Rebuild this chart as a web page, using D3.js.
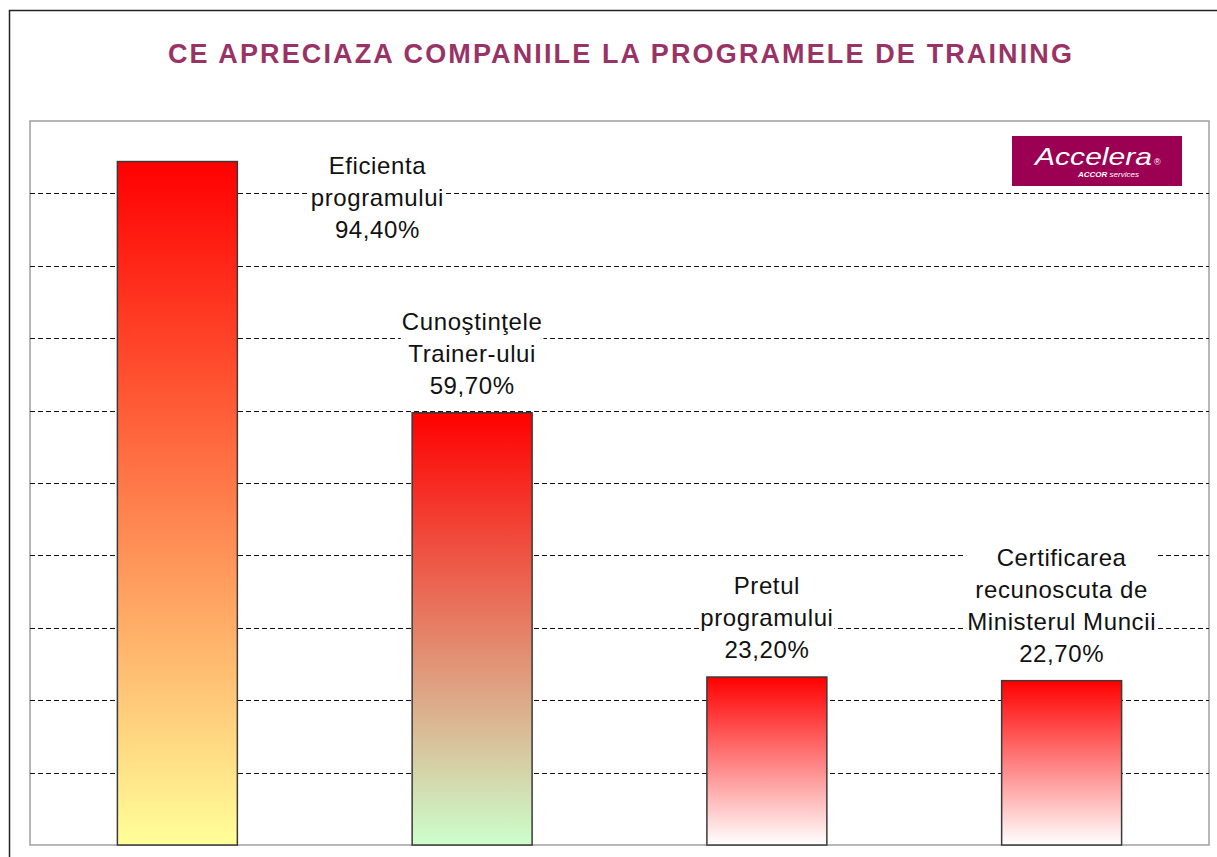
<!DOCTYPE html>
<html>
<head>
<meta charset="utf-8">
<script src="https://cdn.jsdelivr.net/npm/d3@7"></script>
<style>
  html, body { margin: 0; padding: 0; background: #fff; }
  svg { display: block; }
</style>
</head>
<body>
<svg id="chart" width="1217" height="857"></svg>
<script>
// ---- data ----
const title = "CE APRECIAZA COMPANIILE LA PROGRAMELE DE TRAINING";
const categories = [
  "Eficienta programului",
  "Cunoştinţele Trainer-ului",
  "Pretul programului",
  "Certificarea recunoscuta de Ministerul Muncii"
];
const labelLines = [
  ["Eficienta", "programului"],
  ["Cunoştinţele", "Trainer-ului"],
  ["Pretul", "programului"],
  ["Certificarea", "recunoscuta de", "Ministerul Muncii"]
];
const values = [94.4, 59.7, 23.2, 22.7];
const gridTicks = [10, 20, 30, 40, 50, 60, 70, 80, 90];
const gradientBottoms = ["#FFFF99", "#CCFFCC", "#FFFFFF", "#FFFFFF"];

// ---- layout ----
const svg = d3.select("#chart");
const plot = { left: 30, top: 121, right: 1209, bottom: 845 };

const x = d3.scaleBand()
  .domain(categories)
  .range([plot.left, plot.right])
  .paddingInner(0.593)
  .paddingOuter(0.2965);
const y = d3.scaleLinear().domain([0, 100]).range([plot.bottom, plot.top]);

const fmt = v => d3.format(".2f")(v).replace(".", ",") + "%";

// outer frame
svg.append("rect")
  .attr("x", 9.5).attr("y", 10.5)
  .attr("width", 1230).attr("height", 870)
  .attr("fill", "#fff")
  .attr("stroke", "#222").attr("stroke-width", 1.5);

// title
svg.append("text")
  .attr("x", 620).attr("y", 63)
  .attr("text-anchor", "middle")
  .attr("font-family", "'Liberation Sans', Arial, sans-serif")
  .attr("font-weight", "bold")
  .attr("font-size", 27)
  .attr("fill", "#993366")
  .attr("textLength", 904)
  .attr("lengthAdjust", "spacing")
  .text(title);

// plot area
svg.append("rect")
  .attr("x", plot.left).attr("y", plot.top)
  .attr("width", plot.right - plot.left).attr("height", plot.bottom - plot.top)
  .attr("fill", "#fff")
  .attr("stroke", "#a0a0a0").attr("stroke-width", 1.5);

// gridlines via axis
const grid = svg.append("g")
  .attr("transform", `translate(${plot.left},0)`)
  .call(d3.axisRight(y).tickValues(gridTicks).tickSize(plot.right - plot.left).tickFormat(""));
grid.select(".domain").remove();
grid.selectAll(".tick")
  .attr("transform", d => `translate(0,${Math.round(y(d)) + 0.5})`);
grid.selectAll(".tick line")
  .attr("stroke", "#111")
  .attr("stroke-width", 1)
  .attr("stroke-dasharray", "5,3");

// gradients
const defs = svg.append("defs");
categories.forEach((c, i) => {
  const g = defs.append("linearGradient")
    .attr("id", "grad" + i)
    .attr("x1", 0).attr("y1", 0).attr("x2", 0).attr("y2", 1);
  g.append("stop").attr("offset", "0%").attr("stop-color", "#FF0000");
  g.append("stop").attr("offset", "100%").attr("stop-color", gradientBottoms[i]);
});

// bars
svg.append("g").selectAll("rect")
  .data(values)
  .join("rect")
  .attr("x", (d, i) => x(categories[i]))
  .attr("y", d => y(d))
  .attr("width", x.bandwidth())
  .attr("height", d => y(0) - y(d))
  .attr("fill", (d, i) => `url(#grad${i})`)
  .attr("stroke", "#3a3a3a")
  .attr("stroke-width", 1.5);

// labels
const lineH = 32;
const labelShift = { 0: { dx: 200, dy: 95.5 } };
values.forEach((v, i) => {
  const lines = labelLines[i].concat([fmt(v)]);
  const shift = labelShift[i] || { dx: 0, dy: 0 };
  const cx = x(categories[i]) + x.bandwidth() / 2 + shift.dx;
  const lastBase = y(v) - 19 + shift.dy;
  const g = svg.append("g");
  const bg = g.append("rect").attr("fill", "#fff");
  const t = g.append("text")
    .attr("text-anchor", "middle")
    .attr("font-family", "'Liberation Sans', Arial, sans-serif")
    .attr("font-size", 24)
    .attr("letter-spacing", 0.6)
    .attr("fill", "#111");
  lines.forEach((ln, k) => {
    t.append("tspan")
      .attr("x", cx)
      .attr("y", lastBase - (lines.length - 1 - k) * lineH)
      .text(ln);
  });
  const bb = t.node().getBBox();
  bg.attr("x", bb.x - 1).attr("y", bb.y + 2)
    .attr("width", bb.width + 2).attr("height", bb.height - 2);
});

// logo
const logo = svg.append("g");
logo.append("rect")
  .attr("x", 1012).attr("y", 136)
  .attr("width", 170).attr("height", 50)
  .attr("fill", "#9b0052");
logo.append("text")
  .attr("x", 1035).attr("y", 165)
  .attr("font-family", "'Liberation Sans', Arial, sans-serif")
  .attr("font-style", "italic")
  .attr("font-size", 24)
  .attr("fill", "#fff")
  .attr("textLength", 117)
  .attr("lengthAdjust", "spacingAndGlyphs")
  .text("Accelera");
logo.append("text")
  .attr("x", 1154).attr("y", 165)
  .attr("font-family", "'Liberation Sans', Arial, sans-serif")
  .attr("font-size", 9)
  .attr("fill", "#fff")
  .text("®");
const sub = logo.append("text")
  .attr("x", 1078).attr("y", 177)
  .attr("font-family", "'Liberation Sans', Arial, sans-serif")
  .attr("font-style", "italic")
  .attr("font-size", 8)
  .attr("fill", "#fff");
sub.append("tspan").attr("font-weight", "bold").text("ACCOR ");
sub.append("tspan").text("services");
</script>
</body>
</html>
